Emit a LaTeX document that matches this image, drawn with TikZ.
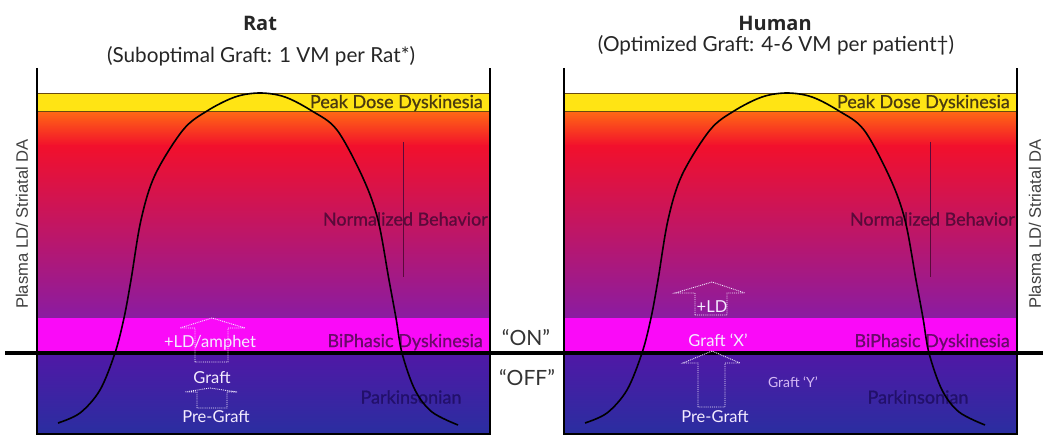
\documentclass[tikz,border=0pt]{standalone}
\usepackage{fontspec}
\setmainfont{Lato}
\newfontfamily\headfont{Open Sans}
\newfontfamily\axfont{Liberation Sans}
\newfontfamily\labfont[FakeBold=0.8]{Lato}
\definecolor{bandyellow}{HTML}{FFE414}
\definecolor{bandline}{HTML}{6A4A10}
\definecolor{gOrange}{HTML}{FF6A14}
\definecolor{gRed}{HTML}{F2102C}
\definecolor{gMid}{HTML}{C40E6E}
\definecolor{gPurple}{HTML}{8A1CA2}
\definecolor{bandMagenta}{HTML}{FA0AF8}
\definecolor{gBlueTop}{HTML}{5018A6}
\definecolor{gBlueBot}{HTML}{2A2EA0}
\definecolor{peakc}{HTML}{4A3A10}
\definecolor{normc}{HTML}{5A0A3A}
\definecolor{biphc}{HTML}{6A0A6A}
\definecolor{parkc}{HTML}{22106A}
\definecolor{onoffc}{HTML}{333333}
\definecolor{graftyc}{HTML}{D4B8F4}
\definecolor{whitelab}{HTML}{F4ECFF}
\tikzset{
  lab/.style={font=\labfont\fontsize{18}{21}\selectfont, inner sep=0pt},
  wlab/.style={font=\fontsize{16.5}{19}\selectfont, inner sep=0pt, text=whitelab},
  curve/.style={line width=1.6pt, black},
  frame/.style={line width=1.8pt, black},
  normline/.style={line width=0.8pt, normc},
  blockarrow/.style={whitelab, densely dotted, line width=0.9pt},
}
\newcommand\drawpanel[2]{%
  \shade[top color=gOrange,bottom color=gRed] (37,111) rectangle (490,146);
  \shade[top color=gRed,middle color=gMid,bottom color=gPurple] (37,145.5) rectangle (490,318.5);
  \fill[bandMagenta] (37,318) rectangle (490,353);
  \shade[top color=gBlueTop,bottom color=gBlueBot] (37,353) rectangle (490,434);
  \fill[bandyellow] (37,93) rectangle (490,111);
  \draw[bandline,line width=0.9pt] (37,93) -- (490,93) (37,111) -- (490,111);
  \draw[normline] (403,142) -- (403,277);
  \node[lab,text=peakc,anchor=east] (peak#1) at (483,103) {Peak Dose Dyskinesia};
  \node[lab,text=normc,anchor=east] (norm#1) at (488,219) {Normalized Behavior};
  \node[lab,text=biphc,anchor=east] (biph#1) at (483,342) {BiPhasic Dyskinesia};
  \node[lab,text=parkc] (park#1) at (#2,397) {Parkinsonian};
  \draw[curve] plot[smooth,tension=0.55] coordinates {(58,423) (80,413) (100,390) (115,353) (124,318) (131,280) (141,220) (155,175) (183,130) (207,111) (235,97) (260,93) (285,97) (312,111) (337,130) (363,178) (378,220) (389,280) (396,318) (402,353) (415,390) (432,412) (458,425)};
  \draw[frame] (37,68) -- (37,434) -- (490,434) -- (490,68);
}
\begin{document}
\begin{tikzpicture}[x=1pt,y=-1pt]
\useasboundingbox (0,0) rectangle (1050,441);
\begin{scope}
  \drawpanel{L}{411}
\end{scope}
\begin{scope}[xshift=527pt]
  \drawpanel{R}{391}
\end{scope}
% ON/OFF line
\draw[line width=3.6pt] (5,353) -- (1043,353);
% titles
\node[font=\headfont\bfseries\fontsize{20}{24}\selectfont, inner sep=0pt, text=black!85] (ratT) at (260,23) {Rat};
\node[font=\fontsize{20.7}{24}\selectfont, inner sep=0pt, text=black!85] (ratS) at (261,56) {(Suboptimal Graft: 1 VM per Rat*)};
\node[font=\headfont\bfseries\fontsize{20}{24}\selectfont, inner sep=0pt, text=black!85] (humT) at (775,23) {Human};
\node[font=\fontsize{20.7}{24}\selectfont, inner sep=0pt, text=black!85] (humS) at (776,45) {(Optimized Graft: 4-6 VM per patient†)};
% axis labels
\node[font=\axfont\fontsize{16.6}{19}\selectfont, inner sep=0pt, rotate=90, text=black!75] (axL) at (22,224) {Plasma LD/ Striatal DA};
\node[font=\axfont\fontsize{16.6}{19}\selectfont, inner sep=0pt, rotate=90, text=black!75] (axR) at (1035,224) {Plasma LD/ Striatal DA};
% ON OFF
\node[font=\fontsize{21}{24}\selectfont, inner sep=0pt, text=onoffc] (on) at (526,338) {“ON”};
\node[font=\fontsize{21}{24}\selectfont, inner sep=0pt, text=onoffc] (off) at (527,378) {“OFF”};
% left arrows
\draw[blockarrow] (195,362) -- (195,328) -- (180,328) -- (212,318) -- (245,328) -- (228,328) -- (228,362) -- cycle;
\draw[blockarrow] (197,408) -- (197,392) -- (185,392) -- (210,388) -- (237,392) -- (227,392) -- (227,408) -- cycle;
\node[wlab] (ldamph) at (210,343) {+LD/amphet};
\node[wlab] (graftL) at (212,378) {Graft};
\node[wlab] (pregL) at (216,417) {Pre-Graft};
% right arrows
\draw[blockarrow] (695,315) -- (695,293) -- (675,293) -- (712,282) -- (745,293) -- (727,293) -- (727,315) -- cycle;
\draw[blockarrow] (698,407) -- (698,363) -- (683,363) -- (712,351) -- (740,363) -- (725,363) -- (725,407) -- cycle;
\node[wlab] (ld) at (712,307) {+LD};
\node[wlab] (graftX) at (718,340) {Graft ‘X’};
\node[wlab] (pregR) at (715,417) {Pre-Graft};
\node[font=\fontsize{14}{16}\selectfont, inner sep=0pt, text=graftyc] (graftY) at (793,382) {Graft ‘Y’};
\end{tikzpicture}
\end{document}
